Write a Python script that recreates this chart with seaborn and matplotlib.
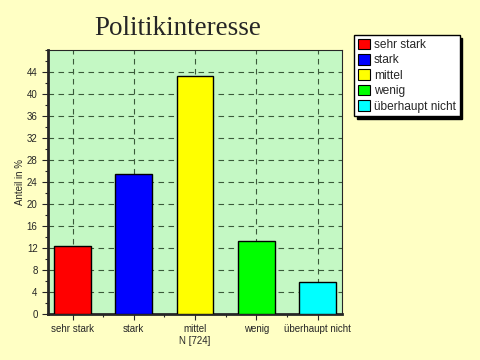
import matplotlib
matplotlib.use("Agg")
import matplotlib.pyplot as plt
import pandas as pd
import seaborn as sns
from matplotlib.ticker import MultipleLocator

# Daten
kategorien = ["sehr stark", "stark", "mittel", "wenig", "überhaupt nicht"]
anteile = [12.3, 25.4, 43.3, 13.3, 5.8]
farben = ["#FF0000", "#0000FF", "#FFFF00", "#00FF00", "#00FFFF"]
y_ticks = [0, 4, 8, 12, 16, 20, 24, 28, 32, 36, 40, 44]
n_text = "N [724]"

df = pd.DataFrame({"kategorie": kategorien, "anteil": anteile})

sns.set_style("ticks")
plt.rcParams["font.family"] = ["Liberation Sans", "DejaVu Sans"]

fig = plt.figure(figsize=(4.8, 3.6), dpi=100, facecolor="#FFFFC4")
ax = fig.add_axes([0.1, 0.128, 0.6125, 0.733])
ax.set_facecolor("#C4F8C4")

sns.barplot(data=df, x="kategorie", y="anteil", hue="kategorie",
            palette=farben, order=kategorien, hue_order=kategorien,
            saturation=1, width=0.6, edgecolor="black", linewidth=1,
            dodge=False, legend=False, ax=ax, zorder=3)

ax.set_xlim(-0.4, 4.4)
ax.set_ylim(0, 48)
ax.set_yticks(y_ticks)
ax.yaxis.set_minor_locator(MultipleLocator(2))
ax.xaxis.set_minor_locator(MultipleLocator(0.5))
ax.grid(True, which="major", color="#3a5a3a", linestyle=(0, (5, 4)), linewidth=0.8, zorder=0)
ax.set_axisbelow(True)

for s in ["left", "bottom"]:
    ax.spines[s].set_linewidth(2)
for s in ["top", "right"]:
    ax.spines[s].set_linewidth(0.8)
    ax.spines[s].set_visible(True)

ax.tick_params(axis="both", which="major", labelsize=7, length=4, width=0.8)
ax.tick_params(axis="both", which="minor", length=2.5, width=0.8)
ax.set_xlabel(n_text, fontsize=7, labelpad=1)
ax.set_ylabel("Anteil in %", fontsize=7, labelpad=1)

fig.text(0.37, 0.922, "Politikinteresse", fontsize=19.5,
         family=["Liberation Serif", "DejaVu Serif"], ha="center", va="center")

handles = [plt.Rectangle((0, 0), 1, 1, facecolor=c, edgecolor="black", linewidth=0.8)
           for c in farben]
leg = fig.legend(handles, kategorien, loc="upper left", bbox_to_anchor=(0.738, 0.903),
                 fontsize=8.6, frameon=True, fancybox=False, framealpha=1,
                 edgecolor="black", facecolor="white", handlelength=1.0,
                 handleheight=1.0, handletextpad=0.35, labelspacing=0.25,
                 borderpad=0.3, borderaxespad=0,
                 shadow={"color": "black", "alpha": 1})

fig.savefig("out.png", dpi=100, facecolor=fig.get_facecolor())
